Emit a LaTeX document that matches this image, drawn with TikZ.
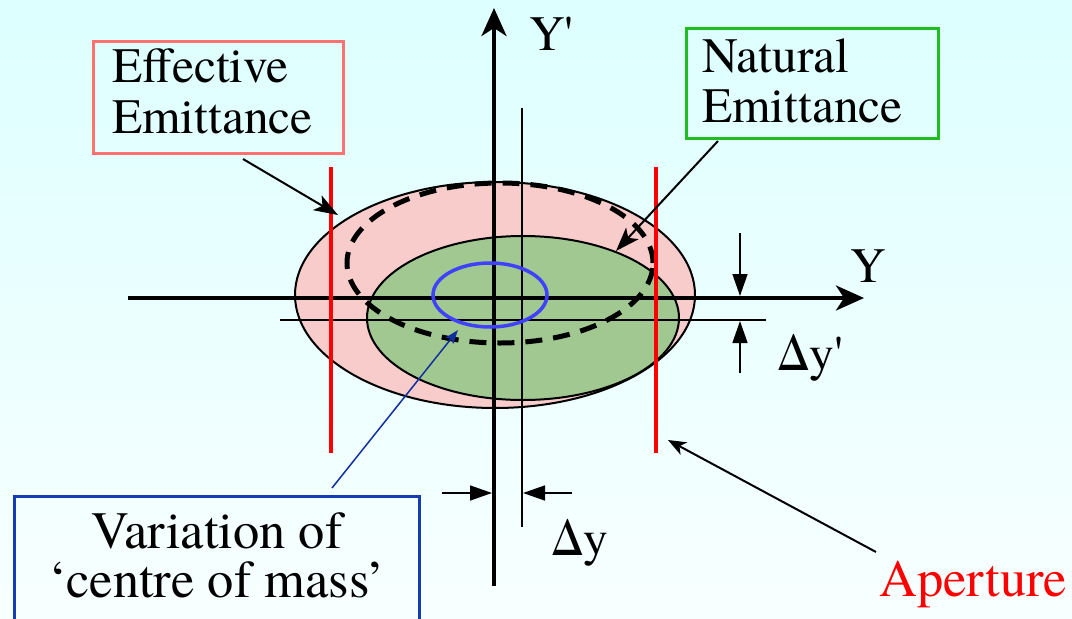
\documentclass[tikz,border=0pt]{standalone}
\usepackage{fontspec}
\setmainfont{TeX Gyre Termes}
\newfontfamily\tnr{TeX Gyre Termes}
\usetikzlibrary{arrows.meta}
\definecolor{bgtop}{RGB}{221,255,255}
\definecolor{bgbot}{RGB}{248,255,255}
\definecolor{pinkfill}{RGB}{249,204,204}
\definecolor{greenfill}{RGB}{160,200,144}
\definecolor{effborder}{RGB}{255,112,112}
\definecolor{natborder}{RGB}{30,190,30}
\definecolor{varborder}{RGB}{20,60,180}
\definecolor{cmblue}{RGB}{64,64,255}
\definecolor{darkblue}{RGB}{16,48,160}
\begin{document}
\begin{tikzpicture}[x=1pt,y=-1pt,
  lbl/.style={font=\tnr\fontsize{49.5}{51}\selectfont, inner sep=0, anchor=base west},
  biglbl/.style={font=\tnr\fontsize{52.5}{49.5}\selectfont, inner sep=0},
  axisline/.style={line width=4pt, -{Stealth[length=28pt,width=25pt,inset=8pt]}},
  thinline/.style={line width=1.5pt},
  aperture/.style={red, line width=4pt},
  leader/.style={line width=2pt, -{Stealth[length=24pt,width=17pt,inset=6pt]}},
  dimarrow/.style={line width=1.5pt, -{Triangle[length=22pt,width=15pt]}},
  boxstyle/.style={line width=2.5pt, inner sep=0, anchor=north west},
  ]
\useasboundingbox (0,0) rectangle (1072,619);
\clip (0,0) rectangle (1072,619);
\shade[top color=bgtop, bottom color=bgbot] (0,0) rectangle (1072,619);

% emittance ellipses
\draw[line width=2pt, fill=pinkfill] (495,295) ellipse [x radius=200pt, y radius=113pt];
\draw[line width=2pt, fill=greenfill] (523,318) ellipse [x radius=156pt, y radius=82pt];
\draw[line width=5pt, dash pattern=on 17pt off 11pt] (500,263) ellipse [x radius=153pt, y radius=80pt];

% offset (thin) axes
\coordinate (tvt) at (522,108);
\coordinate (tvb) at (522,527);
\coordinate (thl) at (280,320);
\coordinate (thr) at (766,320);
\draw[thinline] (tvt) -- (tvb);
\draw[thinline] (thl) -- (thr);

% main axes
\coordinate (yl) at (128,298);
\coordinate (yr) at (864,298);
\coordinate (yb) at (494,586);
\coordinate (yt) at (494,8);
\draw[axisline] (yl) -- (yr);
\draw[axisline] (yb) -- (yt);

% centre of mass variation
\draw[cmblue, line width=3.5pt] (490,295) ellipse [x radius=57pt, y radius=32pt];

% apertures
\coordinate (r1t) at (331,167);
\coordinate (r1b) at (331,453);
\coordinate (r2t) at (656,167);
\coordinate (r2b) at (656,453);
\draw[aperture] (r1t) -- (r1b);
\draw[aperture] (r2t) -- (r2b);

% boxes
\node[boxstyle, draw=effborder, minimum width=250pt, minimum height=112pt] (effbox) at (92,40) {};
\node[boxstyle, draw=natborder, minimum width=252pt, minimum height=110pt] (natbox) at (685,27) {};
\node[boxstyle, draw=varborder, minimum width=405pt, minimum height=160pt] (varbox) at (13,495) {};

% texts
\node[lbl] (efft1) at (112,82) {Effective};
\node[lbl] (efft2) at (112,133) {Emittance};
\node[lbl] (natt1) at (702,72) {Natural};
\node[lbl] (natt2) at (702,122) {Emittance};
\node[lbl] (yplbl) at (529,50) {Y\textquotesingle};
\node[lbl] (ylbl) at (850,282) {Y};
\node[lbl] (dyplbl) at (777,370) {Δy\textquotesingle};
\node[lbl] (dylbl) at (551,555) {Δy};
\node[biglbl, anchor=north, align=center] (vartxt) at (217,512) {Variation of\\‘centre of mass’};
\node[biglbl, anchor=base west, text=red] (aptlbl) at (879,596) {Aperture};

% leaders
\coordinate (effs) at (243,159);
\coordinate (effe) at (338,215);
\coordinate (nats) at (718,141);
\coordinate (nate) at (616,251);
\coordinate (aps) at (876,552);
\coordinate (ape) at (668,440);
\coordinate (cms) at (332,488);
\coordinate (cme) at (458,330);
\draw[leader] (effs) -- (effe);
\draw[leader] (nats) -- (nate);
\draw[line width=2pt, -{Stealth[length=18pt,width=14pt,inset=5pt]}] (aps) -- (ape);
\draw[darkblue, line width=1.5pt, -{Stealth[length=14pt,width=10pt,inset=3pt]}] (cms) -- (cme);

% dimension arrows
\coordinate (dyp1s) at (740,233);
\coordinate (dyp1e) at (740,296);
\coordinate (dyp2s) at (740,373);
\coordinate (dyp2e) at (740,321);
\coordinate (dy1s) at (442,493);
\coordinate (dy1e) at (492,493);
\coordinate (dy2s) at (572,493);
\coordinate (dy2e) at (523,493);
\draw[dimarrow] (dyp1s) -- (dyp1e);
\draw[dimarrow] (dyp2s) -- (dyp2e);
\draw[dimarrow] (dy1s) -- (dy1e);
\draw[dimarrow] (dy2s) -- (dy2e);
\end{tikzpicture}
\end{document}
